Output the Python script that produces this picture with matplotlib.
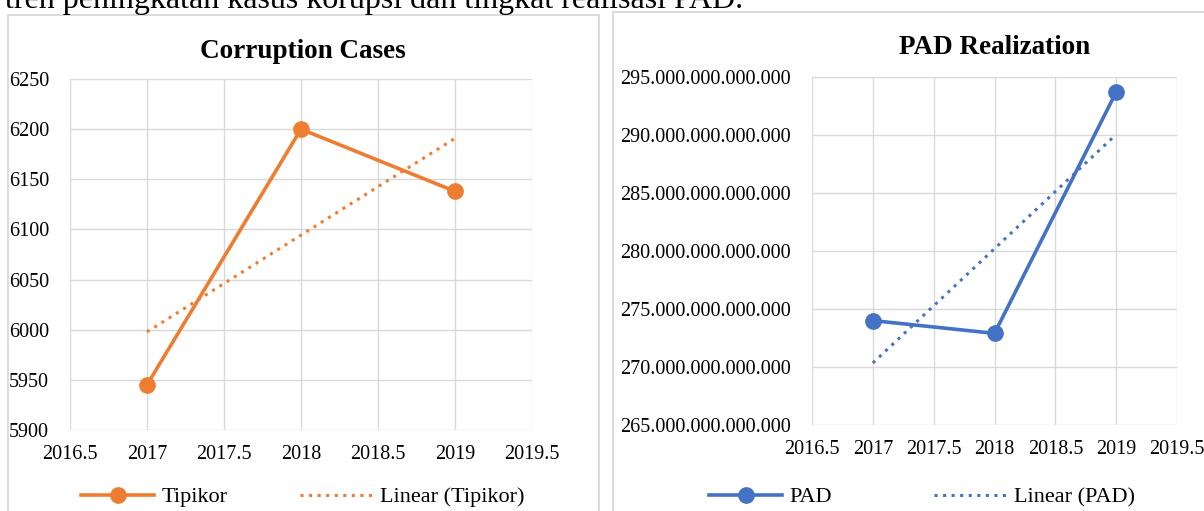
import matplotlib
matplotlib.use("Agg")
import matplotlib.pyplot as plt
import numpy as np
from matplotlib.patches import Rectangle
from matplotlib.lines import Line2D
from matplotlib.ticker import FuncFormatter, MultipleLocator

plt.rcParams['font.family'] = ['Liberation Serif', 'DejaVu Serif']

# ---- data ----
years = [2017, 2018, 2019]
tipikor = [5945, 6200, 6138]
pad = [274.0e12, 272.9e12, 293.7e12]
x_ticks = [2016.5, 2017, 2017.5, 2018, 2018.5, 2019, 2019.5]
left_title = "Corruption Cases"
right_title = "PAD Realization"
top_text = "tren peningkatan kasus korupsi dan tingkat realisasi PAD."

ORANGE = "#ED7D31"
BLUE = "#4472C4"
GRID = "#D9D9D9"

W, H = 1204, 511
fig = plt.figure(figsize=(W / 100, H / 100), dpi=100)

def fx(px):
    return px / W

def fy(py):
    return 1 - py / H

# panel borders
fig.patches.append(Rectangle((fx(8), fy(530)), fx(599 - 8), (530 - 15) / H,
                             transform=fig.transFigure, fill=False,
                             edgecolor=GRID, lw=1.3))
fig.patches.append(Rectangle((fx(613), fy(530)), fx(1230 - 613), (530 - 12) / H,
                             transform=fig.transFigure, fill=False,
                             edgecolor=GRID, lw=1.3))

fig.text(fx(5), fy(8), top_text, fontsize=23, ha='left', va='baseline', color='black')

dotted = (0, (1, 1.8))

def make_panel(rect, ys, color, ylim, ystep, fmt, title, title_xy, name, leg_xy, colsp):
    ax = fig.add_axes(rect)
    ax.set_xlim(x_ticks[0], x_ticks[-1])
    ax.set_ylim(*ylim)
    ax.set_xticks(x_ticks)
    ax.yaxis.set_major_locator(MultipleLocator(ystep))
    ax.xaxis.set_major_formatter(FuncFormatter(lambda v, p: f"{v:g}"))
    ax.yaxis.set_major_formatter(FuncFormatter(fmt))
    ax.grid(True, color=GRID, lw=1.0)
    ax.set_axisbelow(True)
    for s in ax.spines.values():
        s.set_visible(False)
    ax.tick_params(length=0, labelsize=14.5)
    ax.tick_params(axis='x', pad=11)
    ax.tick_params(axis='y', pad=15)
    coef = np.polyfit(years, ys, 1)
    trend = np.polyval(coef, years)
    ax.plot(years, ys, color=color, lw=2.6, marker='o', markersize=11,
            solid_capstyle='round', label=name, zorder=3)
    ax.plot([years[0], years[-1]], [trend[0], trend[-1]], color=color, lw=2.2,
            linestyle=dotted, dash_capstyle='butt', label=f"Linear ({name})", zorder=2)
    fig.text(fx(title_xy[0]), fy(title_xy[1]), title, fontsize=19.5, fontweight='bold',
             ha='center', va='center')
    h1 = Line2D([], [], color=color, lw=2.6, marker='o', markersize=11)
    h2 = Line2D([], [], color=color, lw=2.2, linestyle=dotted, dash_capstyle='butt')
    fig.legend([h1, h2], [name, f"Linear ({name})"], loc='center',
               bbox_to_anchor=(fx(leg_xy[0]), fy(leg_xy[1])), ncol=2, frameon=False,
               fontsize=16, handlelength=3.3, handletextpad=0.3, columnspacing=colsp,
               borderpad=0, borderaxespad=0)
    return ax

make_panel([fx(70), fy(430), fx(532 - 70), (430 - 79) / H], tipikor, ORANGE,
           (5900, 6250), 50, lambda v, p: f"{v:.0f}", left_title, (303, 51),
           "Tipikor", (303, 497), 3.3)

make_panel([fx(812), fy(425), fx(1177 - 812), (425 - 77) / H], pad, BLUE,
           (265e12, 295e12), 5e12, lambda v, p: f"{v:,.0f}".replace(',', '.'),
           right_title, (995, 47), "PAD", (922, 497), 4.6)

fig.savefig("out.png", dpi=100)
